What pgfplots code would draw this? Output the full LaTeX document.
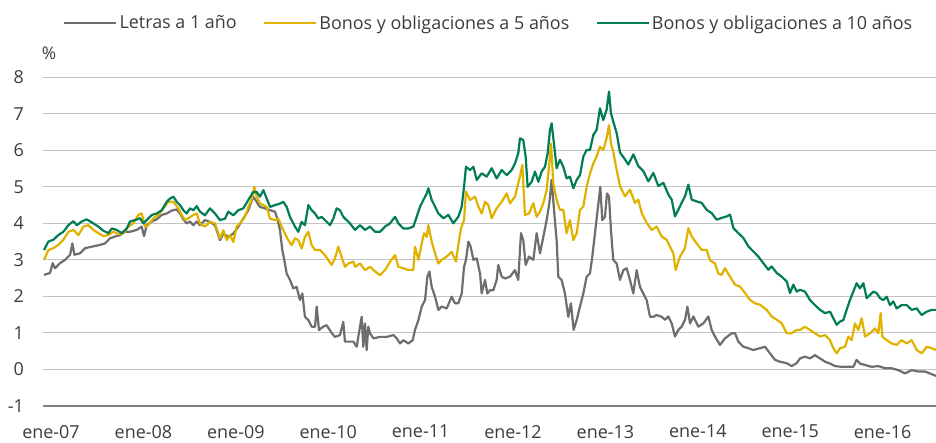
\documentclass[border=0pt]{standalone}
\usepackage{fontspec}
\setmainfont{Open Sans}
\usepackage{pgfplots}
\pgfplotsset{compat=1.18}
\definecolor{cgray}{RGB}{110,110,110}
\definecolor{cyel}{RGB}{224,178,0}
\definecolor{cgreen}{RGB}{0,125,82}
\definecolor{gridc}{RGB}{195,195,195}
\definecolor{axc}{RGB}{128,128,128}
\definecolor{txt}{RGB}{60,60,60}
\begin{document}
\begin{tikzpicture}
\useasboundingbox (0,0) rectangle (936bp,443bp);
\begin{axis}[
 at={(43bp,37.1bp)}, anchor=south west,
 scale only axis, width=893bp, height=328.6bp,
 xmin=2006.913, xmax=2016.578, ymin=-1, ymax=8,
 ytick={-1,0,1,2,3,4,5,6,7,8},
 xtick={2007,2008,2009,2010,2011,2012,2013,2014,2015,2016},
 xticklabels={ene-07,ene-08,ene-09,ene-10,ene-11,ene-12,ene-13,ene-14,ene-15,ene-16},
 ymajorgrids, major grid style={draw=gridc, line width=1bp},
 axis x line*=bottom, axis y line*=left,
 x axis line style={draw=axc, line width=1.5bp},
 y axis line style={draw=none},
 major tick length=0pt,
 /pgf/number format/assume math mode=true,
 tick label style={font=\fontsize{18}{21}\selectfont, text=txt},
 yticklabel style={anchor=east, inner sep=0pt, xshift=-19bp},
 xticklabel style={anchor=north, inner sep=0pt, yshift=-19bp},
 legend columns=3,
 legend style={draw=none, fill=none, at={(0.4990,1.1652)}, anchor=center,
   font=\fontsize{18}{21}\selectfont, text=txt,
   /tikz/every even column/.append style={column sep=24bp}},
 legend image code/.code={\draw[#1, line width=2.6bp] (0bp,0bp) -- (52bp,0bp);},
 line join=round,
]
\addplot[cgray, line width=2.2bp] coordinates {
(2006.924,2.59)(2006.989,2.64)(2007.018,2.91)(2007.043,2.77)(2007.097,2.91)(2007.152,3.00)(2007.206,3.14)(2007.231,3.45)(2007.253,3.14)(2007.314,3.18)(2007.368,3.32)(2007.422,3.35)(2007.476,3.38)(2007.530,3.41)(2007.584,3.45)(2007.639,3.59)(2007.693,3.64)(2007.747,3.68)(2007.801,3.77)(2007.855,3.77)(2007.927,3.82)(2007.981,3.91)(2008.007,3.65)(2008.035,3.95)(2008.090,4.05)(2008.144,4.11)(2008.198,4.23)(2008.252,4.27)(2008.306,4.35)(2008.360,4.38)(2008.396,4.27)(2008.432,4.11)(2008.468,4.00)(2008.504,4.05)(2008.540,3.95)(2008.577,4.05)
(2008.612,3.95)(2008.666,4.09)(2008.720,4.04)(2008.774,3.95)(2008.829,3.54)(2008.865,3.72)(2008.919,3.63)(2008.973,3.72)(2009.027,3.91)(2009.081,4.13)(2009.135,4.36)(2009.189,4.73)(2009.225,4.59)(2009.261,4.45)(2009.316,4.41)(2009.370,4.36)(2009.424,4.32)(2009.453,4.09)(2009.478,3.81)(2009.503,3.27)(2009.525,2.99)(2009.550,2.63)(2009.586,2.45)(2009.622,2.22)(2009.658,2.26)(2009.694,1.90)(2009.720,2.08)(2009.748,1.44)(2009.785,1.35)(2009.821,1.17)(2009.857,1.17)(2009.875,1.72)(2009.900,1.08)(2009.947,1.17)(2009.983,1.21)(2010.037,1.00)(2010.073,0.89)(2010.127,0.94)(2010.163,1.30)(2010.181,0.76)(2010.235,0.76)
(2010.272,0.76)(2010.308,0.62)(2010.344,1.17)(2010.362,1.44)(2010.380,0.62)(2010.398,1.26)(2010.416,0.53)(2010.434,1.17)(2010.452,0.99)(2010.489,0.85)(2010.561,0.89)(2010.633,0.89)(2010.705,0.94)(2010.741,0.85)(2010.777,0.71)(2010.813,0.80)(2010.867,0.71)(2010.914,0.80)(2010.939,1.08)(2010.976,1.35)(2011.012,1.72)(2011.048,1.90)(2011.073,2.54)(2011.095,2.68)(2011.120,2.26)(2011.156,1.99)(2011.192,1.63)(2011.228,1.72)(2011.282,1.67)(2011.336,1.99)(2011.372,1.81)(2011.408,1.81)(2011.445,2.08)(2011.470,2.81)(2011.491,3.00)(2011.517,3.50)(2011.542,3.36)(2011.571,3.00)(2011.607,3.04)(2011.643,2.63)(2011.661,2.08)(2011.697,2.45)(2011.722,2.08)(2011.751,2.17)(2011.787,2.17)(2011.823,2.45)(2011.841,2.86)(2011.877,2.54)(2011.913,2.49)(2011.968,2.54)
(2012.021,2.72)(2012.057,2.45)(2012.086,3.73)(2012.111,3.54)(2012.137,2.86)(2012.173,3.09)(2012.220,3.00)(2012.256,3.73)(2012.292,3.18)(2012.328,3.63)(2012.364,4.09)(2012.393,4.55)(2012.418,5.19)(2012.447,4.27)(2012.472,3.54)(2012.490,2.54)(2012.526,2.45)(2012.562,2.08)(2012.598,1.44)(2012.627,1.81)(2012.656,1.08)(2012.689,1.35)(2012.725,1.72)(2012.761,2.08)(2012.797,2.54)(2012.833,2.63)(2012.858,3.09)(2012.887,3.73)(2012.916,4.37)(2012.945,5.00)(2012.966,4.09)(2012.995,4.18)(2013.017,4.82)(2013.039,4.73)(2013.060,3.82)(2013.085,3.00)(2013.122,2.90)(2013.158,2.45)(2013.194,2.72)(2013.230,2.77)(2013.266,2.45)(2013.302,2.08)(2013.338,2.72)(2013.374,2.26)(2013.410,2.08)(2013.446,1.90)(2013.483,1.44)(2013.519,1.44)(2013.554,1.49)(2013.609,1.44)
(2013.645,1.36)(2013.681,1.45)(2013.717,1.26)(2013.753,0.90)(2013.789,1.08)(2013.825,1.17)(2013.862,1.36)(2013.887,1.72)(2013.916,1.26)(2013.952,1.45)(2014.006,1.17)(2014.060,1.26)(2014.114,1.45)(2014.150,1.08)(2014.186,0.90)(2014.240,0.67)(2014.294,0.85)(2014.367,0.99)(2014.403,0.99)(2014.439,0.76)(2014.493,0.62)(2014.547,0.58)(2014.601,0.53)(2014.673,0.58)(2014.727,0.62)(2014.781,0.44)(2014.836,0.26)(2014.890,0.21)(2014.962,0.17)(2015.016,0.09)(2015.070,0.17)
(2015.106,0.30)(2015.160,0.35)(2015.214,0.30)(2015.268,0.39)(2015.323,0.30)(2015.377,0.21)(2015.431,0.16)(2015.485,0.09)(2015.557,0.07)(2015.629,0.07)(2015.683,0.07)(2015.719,0.26)(2015.755,0.16)(2015.810,0.12)(2015.882,0.07)(2015.954,0.09)(2016.026,0.03)(2016.098,0.03)(2016.170,-0.02)(2016.242,-0.11)(2016.315,-0.02)(2016.387,-0.06)(2016.459,-0.06)(2016.531,-0.13)(2016.578,-0.18)
};
\addlegendentry{Letras a 1 año}
\addplot[cyel, line width=2.2bp] coordinates {
(2006.924,3.00)(2006.971,3.27)(2007.025,3.32)(2007.079,3.41)(2007.134,3.55)(2007.188,3.77)(2007.242,3.82)(2007.296,3.68)(2007.350,3.91)(2007.404,3.95)(2007.458,3.82)(2007.512,3.73)(2007.566,3.65)(2007.621,3.68)(2007.675,3.77)(2007.729,3.71)(2007.783,3.73)(2007.837,3.91)(2007.891,4.00)(2007.945,4.23)(2007.981,4.27)(2008.017,3.91)(2008.053,3.95)(2008.108,4.14)(2008.162,4.23)(2008.216,4.41)(2008.270,4.59)(2008.324,4.59)(2008.378,4.41)(2008.414,4.23)(2008.450,4.09)(2008.486,4.14)(2008.540,4.23)(2008.577,4.27)
(2008.612,4.00)(2008.666,3.91)(2008.720,4.04)(2008.774,4.00)(2008.829,3.59)(2008.865,3.81)(2008.901,3.54)(2008.937,3.68)(2008.973,3.49)(2009.009,3.91)(2009.045,4.00)(2009.099,4.18)(2009.135,4.45)(2009.171,4.64)(2009.200,5.00)(2009.225,4.73)(2009.261,4.54)(2009.298,4.50)(2009.334,4.45)(2009.370,4.13)(2009.424,4.09)(2009.460,4.13)(2009.496,3.91)(2009.532,3.72)(2009.568,3.54)(2009.604,3.40)(2009.640,3.59)(2009.676,3.54)(2009.712,3.31)(2009.748,3.63)(2009.785,3.77)(2009.821,3.40)(2009.857,3.27)(2009.911,3.27)(2009.965,3.13)(2010.001,2.99)(2010.037,2.86)(2010.073,3.04)(2010.109,3.36)(2010.145,3.08)(2010.181,2.81)(2010.217,2.90)(2010.272,2.95)
(2010.290,2.81)(2010.344,2.90)(2010.398,2.72)(2010.452,2.81)(2010.507,2.68)(2010.561,2.58)(2010.615,2.72)(2010.669,2.95)(2010.723,3.13)(2010.759,2.81)(2010.813,2.77)(2010.867,2.72)(2010.921,2.72)(2010.939,3.36)(2010.976,3.00)(2011.012,3.45)(2011.037,3.73)(2011.066,3.63)(2011.084,3.95)(2011.120,3.50)(2011.156,3.18)(2011.192,2.90)(2011.228,3.00)(2011.282,3.09)(2011.336,3.22)(2011.383,2.95)(2011.408,3.41)(2011.437,3.86)(2011.470,4.09)(2011.491,4.87)(2011.535,4.64)(2011.589,4.73)(2011.625,4.46)(2011.661,4.27)(2011.697,4.59)(2011.733,4.50)(2011.769,4.14)(2011.823,4.41)(2011.877,4.59)(2011.932,4.82)(2011.968,4.55)
(2012.021,4.73)(2012.075,5.28)(2012.101,5.60)(2012.129,4.23)(2012.173,4.27)(2012.220,4.55)(2012.256,4.18)(2012.292,4.32)(2012.328,4.55)(2012.364,4.91)(2012.393,5.64)(2012.411,6.19)(2012.436,5.10)(2012.472,4.64)(2012.508,4.37)(2012.544,4.37)(2012.580,3.73)(2012.616,4.09)(2012.653,3.54)(2012.689,3.73)(2012.725,4.37)(2012.761,4.46)(2012.797,5.00)(2012.833,5.37)(2012.869,5.64)(2012.905,5.83)(2012.941,6.10)(2012.977,6.01)(2013.013,6.33)(2013.039,6.69)(2013.060,6.19)(2013.085,5.96)(2013.122,5.46)
(2013.158,5.02)(2013.212,4.74)(2013.266,4.92)(2013.320,4.56)(2013.356,4.65)(2013.393,4.28)(2013.447,4.01)(2013.501,3.82)(2013.555,3.91)(2013.609,3.64)(2013.663,3.55)(2013.699,3.36)(2013.735,3.18)(2013.760,2.72)(2013.807,3.09)(2013.861,3.32)(2013.898,3.87)(2013.934,3.64)(2013.988,3.45)(2014.042,3.27)(2014.096,3.27)(2014.132,2.99)(2014.186,2.90)(2014.222,2.62)
(2014.258,2.59)(2014.294,2.77)(2014.349,2.54)(2014.403,2.32)(2014.457,2.27)(2014.511,2.09)(2014.565,1.90)(2014.619,1.81)(2014.673,1.77)(2014.745,1.63)(2014.799,1.45)(2014.854,1.36)(2014.908,1.26)(2014.962,0.99)(2015.016,0.99)(2015.070,1.08)
(2015.106,1.08)(2015.160,1.17)(2015.214,1.08)(2015.268,0.99)(2015.323,0.90)(2015.377,0.94)(2015.431,0.80)(2015.467,0.58)(2015.503,0.44)(2015.539,0.58)(2015.593,0.62)(2015.629,0.90)(2015.665,0.80)(2015.701,1.26)(2015.737,1.08)(2015.774,1.40)(2015.810,0.90)(2015.864,0.99)(2015.918,1.12)(2015.954,0.99)(2015.979,1.54)(2015.997,0.90)(2016.044,0.80)(2016.098,0.71)(2016.152,0.67)(2016.206,0.80)(2016.261,0.71)(2016.315,0.80)(2016.369,0.53)(2016.423,0.44)(2016.477,0.62)(2016.531,0.58)(2016.578,0.53)
};
\addlegendentry{Bonos y obligaciones a 5 años}
\addplot[cgreen, line width=2.2bp] coordinates {
(2006.924,3.27)(2006.971,3.50)(2007.025,3.55)(2007.079,3.68)(2007.134,3.77)(2007.188,3.95)(2007.242,4.06)(2007.278,3.95)(2007.332,4.05)(2007.386,4.11)(2007.458,4.00)(2007.512,3.91)(2007.566,3.80)(2007.621,3.73)(2007.657,3.86)(2007.711,3.82)(2007.765,3.73)(2007.819,3.86)(2007.855,4.05)(2007.909,4.09)(2007.963,4.14)(2007.999,4.00)(2008.035,4.09)(2008.090,4.23)(2008.144,4.27)(2008.198,4.36)(2008.252,4.59)(2008.288,4.68)(2008.324,4.73)(2008.360,4.59)(2008.396,4.50)(2008.432,4.36)(2008.468,4.27)(2008.504,4.41)(2008.540,4.36)(2008.577,4.47)
(2008.612,4.32)(2008.666,4.22)(2008.720,4.41)(2008.774,4.27)(2008.829,4.09)(2008.883,4.13)(2008.919,4.32)(2008.973,4.22)(2009.027,4.36)(2009.081,4.41)(2009.135,4.64)(2009.189,4.86)(2009.225,4.86)(2009.261,4.73)(2009.298,4.91)(2009.334,4.68)(2009.370,4.45)(2009.424,4.50)(2009.478,4.54)(2009.514,4.59)(2009.550,4.45)(2009.586,4.18)(2009.640,3.91)(2009.676,3.77)(2009.712,4.04)(2009.748,3.95)(2009.785,4.50)(2009.821,4.36)(2009.857,4.27)(2009.893,4.13)(2009.929,4.18)(2009.965,4.09)(2010.019,3.95)(2010.055,4.13)(2010.091,4.41)(2010.127,4.36)(2010.163,4.18)(2010.199,4.09)(2010.235,4.00)
(2010.290,3.82)(2010.344,3.95)(2010.398,3.82)(2010.452,3.91)(2010.507,3.77)(2010.561,3.77)(2010.615,3.91)(2010.669,4.00)(2010.723,4.18)(2010.759,4.00)(2010.813,3.86)(2010.867,3.86)(2010.921,3.91)(2010.958,4.18)(2010.994,4.46)(2011.030,4.64)(2011.066,4.82)(2011.084,4.96)(2011.120,4.64)(2011.156,4.46)(2011.192,4.27)(2011.246,4.14)(2011.300,4.23)(2011.354,4.00)(2011.408,4.18)(2011.445,4.46)(2011.470,5.00)(2011.491,5.55)(2011.535,5.46)(2011.571,5.55)(2011.607,5.19)(2011.661,5.37)(2011.715,5.28)(2011.769,5.51)(2011.823,5.23)(2011.877,5.46)(2011.932,5.32)
(2011.985,5.46)(2012.021,5.64)(2012.057,5.92)(2012.075,6.33)(2012.111,6.28)(2012.137,5.83)(2012.158,5.00)(2012.202,5.14)(2012.238,5.42)(2012.274,5.14)(2012.310,5.42)(2012.346,5.55)(2012.375,5.92)(2012.400,6.56)(2012.418,6.74)(2012.447,6.10)(2012.472,5.51)(2012.508,5.74)(2012.544,5.55)(2012.580,5.23)(2012.616,5.28)(2012.653,4.96)(2012.689,5.19)(2012.725,5.32)(2012.761,5.83)(2012.797,6.01)(2012.833,6.01)(2012.869,6.42)(2012.905,6.56)(2012.941,7.15)(2012.977,6.83)(2013.013,7.11)(2013.039,7.61)(2013.060,7.01)(2013.085,6.79)(2013.122,6.47)
(2013.158,5.94)(2013.212,5.75)(2013.248,5.61)(2013.302,5.89)(2013.356,5.57)(2013.411,5.43)(2013.465,5.15)(2013.519,5.38)(2013.573,5.02)(2013.627,5.11)(2013.681,4.79)(2013.717,4.65)(2013.753,4.19)(2013.789,4.37)(2013.825,4.56)(2013.861,4.74)(2013.898,5.06)(2013.934,4.65)(2013.988,4.60)(2014.042,4.56)(2014.096,4.37)(2014.150,4.28)(2014.204,4.10)
(2014.258,4.15)(2014.313,4.19)(2014.349,4.24)(2014.385,3.87)(2014.439,3.73)(2014.493,3.60)(2014.547,3.37)(2014.601,3.23)(2014.655,3.09)(2014.709,2.91)(2014.763,2.73)(2014.799,2.82)(2014.854,2.64)(2014.908,2.54)(2014.962,2.41)(2014.998,2.09)(2015.034,2.32)(2015.070,2.13)(2015.106,2.18)
(2015.160,2.13)(2015.214,1.90)(2015.268,1.76)(2015.323,1.63)(2015.377,1.54)(2015.431,1.58)(2015.467,1.40)(2015.503,1.22)(2015.539,1.31)(2015.575,1.35)(2015.611,1.63)(2015.647,1.90)(2015.683,2.13)(2015.719,2.36)(2015.755,2.22)(2015.792,2.36)(2015.828,1.95)(2015.864,2.04)(2015.900,2.13)(2015.936,2.09)(2015.972,1.95)(2016.008,1.90)(2016.044,1.99)(2016.080,1.76)(2016.116,1.86)(2016.152,1.67)(2016.206,1.76)(2016.261,1.76)(2016.315,1.63)(2016.369,1.67)(2016.423,1.49)(2016.477,1.58)(2016.531,1.63)(2016.578,1.63)
};
\addlegendentry{Bonos y obligaciones a 10 años}
\end{axis}
\node[font=\fontsize{17.5}{21}\selectfont, text=txt] at (49bp,390bp) {\%};
\end{tikzpicture}
\end{document}
